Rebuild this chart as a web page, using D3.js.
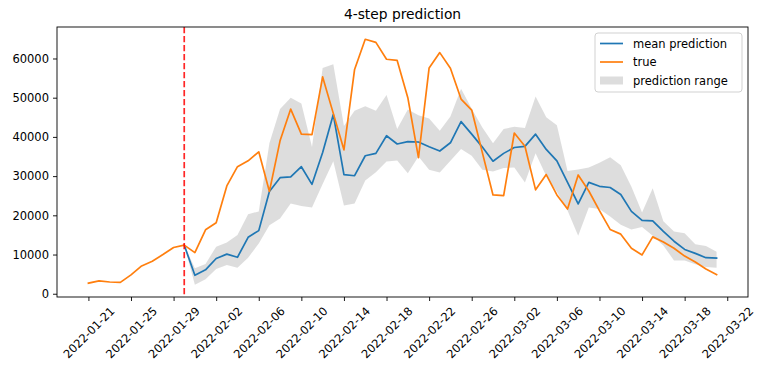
<!DOCTYPE html>
<html>
<head>
<meta charset="utf-8">
<script src="https://cdn.jsdelivr.net/npm/d3@7"></script>
<style>
  html, body { margin: 0; padding: 0; background: #fff; }
  svg { display: block; }
  text { font-family: "DejaVu Sans", sans-serif; }
</style>
</head>
<body>
<svg id="chart" width="764" height="373"></svg>
<script>
// ---- data ----
const startDate = "2022-01-21";
const splitDate = "2022-01-30";
const predStartIndex = 9;

const trueValues = [
  2700, 3300, 3000, 2900, 4800, 7100, 8300, 10000, 11800, 12400,
  10500, 16300, 18100, 27500, 32400, 33900, 36200, 26100, 39000, 47100,
  40700, 40600, 55300, 46000, 36700, 57200, 64900, 64100, 59800, 59500,
  50000, 34700, 57600, 61500, 57500, 49650, 46850, 36000, 25200, 25000,
  41000, 37600, 26500, 30400, 25200, 21600, 30300, 26200, 21200, 16400,
  15200, 11600, 9900, 14500, 13200, 11600, 9600, 8100, 6300, 4900
];

const meanPrediction = [
  12400, 4700, 6100, 9000, 10100, 9300, 14400, 16100, 26100, 29600, 29800,
  32400, 27900, 36000, 45700, 30400, 30100, 35200, 35800, 40300, 38200,
  38800, 38700, 37500, 36400, 38500, 43900, 40700, 37400, 33800, 35800,
  37300, 37600, 40700, 36800, 33900, 28400, 22900, 28400, 27400, 27100,
  25300, 21000, 18700, 18600, 15900, 13400, 11300, 10300, 9200, 9100
];

const predUpper = [
  12400, 6500, 7600, 12000, 13100, 15000, 20300, 21000, 38400, 47100, 50000,
  48500, 37400, 57600, 58500, 42800, 46700, 47800, 46700, 50700, 42000,
  47000, 45500, 44700, 41600, 45200, 52300, 47200, 42400, 38400, 42000,
  42600, 42300, 50300, 45000, 43000, 31300, 31700, 32200, 33400, 34800,
  32800, 27300, 20700, 26900, 18500, 15900, 15400, 12600, 12200, 10700
];

const predLower = [
  12400, 2300, 3700, 6300, 7300, 6600, 9200, 12800, 17500, 19200, 23000,
  22400, 22000, 28000, 33800, 22500, 23000, 28900, 31000, 33700, 34000,
  30700, 35000, 31600, 30900, 33900, 36900, 35200, 31600, 31200, 32100,
  32200, 28400, 35800, 30000, 26000, 21200, 14800, 22000, 21600, 19700,
  17600, 16400, 17000, 14800, 12300, 8500, 8500, 7500, 6800, 6600
];

const yTicks = [0, 10000, 20000, 30000, 40000, 50000, 60000];
const xTickLabels = [
  "2022-01-21", "2022-01-25", "2022-01-29", "2022-02-02", "2022-02-06",
  "2022-02-10", "2022-02-14", "2022-02-18", "2022-02-22", "2022-02-26",
  "2022-03-02", "2022-03-06", "2022-03-10", "2022-03-14", "2022-03-18", "2022-03-22"
];
const titleText = "4-step prediction";
const legendLabels = ["mean prediction", "true", "prediction range"];

// ---- build ----
const parse = d3.utcParse("%Y-%m-%d");
const DAY = 86400000;
const t0 = parse(startDate);
const dateAt = i => new Date(t0.getTime() + i * DAY);

const trueData = trueValues.map((v, i) => ({ date: dateAt(i), v }));
const predData = meanPrediction.map((v, i) => ({
  date: dateAt(predStartIndex + i), v, lo: predLower[i], hi: predUpper[i]
}));

const L = 57, R = 748, T = 27, B = 297;

const firstT = t0.getTime();
const lastT = dateAt(trueValues.length - 1).getTime();
const xm = (lastT - firstT) * 0.05;
const x = d3.scaleUtc().domain([new Date(firstT - xm), new Date(lastT + xm)]).range([L, R]);

const allVals = trueValues.concat(meanPrediction, predUpper, predLower);
const vmin = d3.min(allVals), vmax = d3.max(allVals);
const ym = (vmax - vmin) * 0.05;
const y = d3.scaleLinear().domain([vmin - ym, vmax + ym]).range([B, T]);

const svg = d3.select("#chart");

// band
svg.append("path")
  .datum(predData)
  .attr("d", d3.area().x(d => x(d.date)).y0(d => y(d.lo)).y1(d => y(d.hi)))
  .attr("fill", "#808080").attr("fill-opacity", 0.27).attr("stroke", "none");

const line = d3.line().x(d => x(d.date)).y(d => y(d.v));
svg.append("path").datum(predData).attr("d", line)
  .attr("fill", "none").attr("stroke", "#1f77b4").attr("stroke-width", 1.7)
  .attr("stroke-linejoin", "round").attr("stroke-linecap", "square");
svg.append("path").datum(trueData).attr("d", line)
  .attr("fill", "none").attr("stroke", "#ff7f0e").attr("stroke-width", 1.7)
  .attr("stroke-linejoin", "round").attr("stroke-linecap", "square");

// split line
const sx = x(parse(splitDate));
svg.append("line").attr("x1", sx).attr("x2", sx).attr("y1", T).attr("y2", B)
  .attr("stroke", "#ff0000").attr("stroke-width", 1.7)
  .attr("stroke-dasharray", "6.3,2.7").attr("stroke-opacity", 0.85);

// axes
const yAxis = d3.axisLeft(y).tickValues(yTicks).tickSize(4).tickPadding(4).tickFormat(d3.format("d"));
const gy = svg.append("g").attr("transform", `translate(${L},0)`).call(yAxis);
gy.select(".domain").remove();
gy.selectAll("text").attr("font-size", "11.5px").attr("fill", "#000")
  .attr("font-family", "DejaVu Sans, sans-serif");
gy.selectAll("line").attr("stroke", "#000").attr("stroke-width", 0.9);

const xTickDates = xTickLabels.map(parse);
const xAxis = d3.axisBottom(x).tickValues(xTickDates).tickSize(4).tickFormat(d3.utcFormat("%Y-%m-%d"));
const gx = svg.append("g").attr("transform", `translate(0,${B})`).call(xAxis);
gx.select(".domain").remove();
gx.selectAll("line").attr("stroke", "#000").attr("stroke-width", 0.9);
gx.selectAll("text").each(function () {
  const t = d3.select(this);
  t.attr("font-size", "11.5px").attr("fill", "#000").attr("font-family", "DejaVu Sans, sans-serif");
  const len = this.getComputedTextLength();
  const half = (len + 11) * 0.7071 / 2;
  t.attr("text-anchor", "middle").attr("y", 0).attr("dy", "0.35em")
   .attr("transform", `translate(0,${8 + half}) rotate(-45)`);
});

// spines
svg.append("rect").attr("x", L).attr("y", T).attr("width", R - L).attr("height", B - T)
  .attr("fill", "none").attr("stroke", "#000").attr("stroke-width", 0.9);

// title
svg.append("text").attr("x", (L + R) / 2).attr("y", 19).attr("text-anchor", "middle")
  .attr("font-size", "13.8px").attr("fill", "#000").text(titleText);

// legend
const lg = svg.append("g");
lg.append("rect").attr("x", 595).attr("y", 33).attr("width", 147).attr("height", 59)
  .attr("rx", 3).attr("fill", "#fff").attr("fill-opacity", 0.8)
  .attr("stroke", "#cccccc").attr("stroke-width", 0.9);
const rows = [43.5, 62, 80.5];
lg.append("line").attr("x1", 600).attr("x2", 623).attr("y1", rows[0]).attr("y2", rows[0])
  .attr("stroke", "#1f77b4").attr("stroke-width", 1.7);
lg.append("line").attr("x1", 600).attr("x2", 623).attr("y1", rows[1]).attr("y2", rows[1])
  .attr("stroke", "#ff7f0e").attr("stroke-width", 1.7);
lg.append("rect").attr("x", 600).attr("y", rows[2] - 4).attr("width", 23).attr("height", 8)
  .attr("fill", "#808080").attr("fill-opacity", 0.27);
legendLabels.forEach((s, i) => {
  lg.append("text").attr("x", 633).attr("y", rows[i]).attr("dy", "0.35em")
    .attr("font-size", "11.5px").attr("fill", "#000").text(s);
});
</script>
</body>
</html>
